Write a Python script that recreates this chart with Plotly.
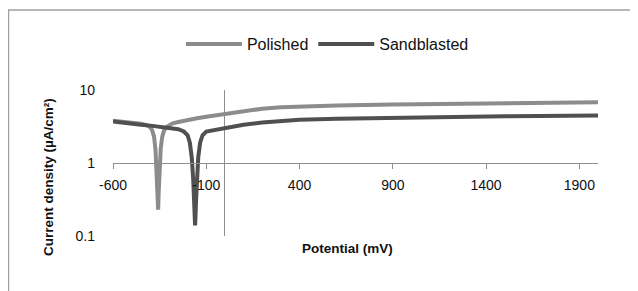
import plotly.graph_objects as go

# Potential (mV) and current density (uA/cm2)
pol_x = [-600, -550, -500, -450, -420, -400, -390, -380, -372, -366, -361, -358,
         -355, -350, -344, -336, -326, -315, -300, -280, -250, -200, -150, -100,
         -50, 0, 50, 100, 150, 200, 300, 400, 600, 900, 1200, 1500, 2000]
pol_y = [3.8, 3.7, 3.6, 3.45, 3.3, 3.1, 2.8, 2.3, 1.5, 0.8, 0.4, 0.23,
         0.4, 0.9, 1.6, 2.3, 2.8, 3.1, 3.3, 3.5, 3.65, 3.9, 4.1, 4.3,
         4.5, 4.7, 4.95, 5.2, 5.4, 5.55, 5.8, 5.95, 6.15, 6.35, 6.5, 6.62, 6.8]

sand_x = [-600, -550, -500, -450, -400, -350, -300, -250, -220, -200, -188, -178,
          -170, -165, -162, -160, -158, -155, -150, -143, -133, -120, -100, -50,
          0, 50, 100, 200, 300, 400, 600, 900, 1200, 1500, 2000]
sand_y = [3.7, 3.55, 3.45, 3.35, 3.25, 3.15, 3.05, 2.9, 2.7, 2.4, 1.9, 1.2,
          0.6, 0.3, 0.18, 0.14, 0.18, 0.3, 0.6, 1.2, 1.9, 2.4, 2.7, 2.85,
          3.0, 3.2, 3.35, 3.6, 3.75, 3.9, 4.05, 4.2, 4.3, 4.38, 4.48]

x_ticks = [-600, -100, 400, 900, 1400, 1900]
x_labels = ["-600", "-100", "400", "900", "1400", "1900"]
y_ticks = [0.1, 1, 10]
y_labels = ["0.1", "1", "10"]

FONT = "Liberation Sans, Arial, sans-serif"
GRID = "#8f8f8f"

fig = go.Figure()
fig.add_trace(go.Scatter(x=pol_x, y=pol_y, mode="lines", name="Polished",
                         line=dict(color="#8c8c8c", width=4)))
fig.add_trace(go.Scatter(x=sand_x, y=sand_y, mode="lines", name="Sandblasted",
                         line=dict(color="#505050", width=4)))

fig.update_layout(
    width=630, height=283,
    margin=dict(l=105, r=40, t=82, b=55),
    paper_bgcolor="white", plot_bgcolor="white",
    font=dict(family=FONT, size=14, color="#111111"),
    showlegend=True,
    legend=dict(orientation="h", x=0.14, y=1.315, xanchor="left", yanchor="middle",
                font=dict(size=16), itemwidth=56, bgcolor="rgba(0,0,0,0)",
                tracegroupgap=0),
    xaxis=dict(range=[-600, 2000], tickvals=x_ticks, ticktext=x_labels,
               showgrid=False, anchor="free", position=0.5, showline=True,
               linecolor=GRID, linewidth=1, ticks="outside", ticklen=5,
               tickcolor=GRID, zeroline=True, zerolinecolor=GRID,
               zerolinewidth=1, ticklabelstandoff=4),
    yaxis=dict(type="log", range=[-1, 1], tickvals=y_ticks, ticktext=y_labels,
               showgrid=True, gridcolor=GRID, gridwidth=1, showline=False,
               zeroline=False, ticks="", ticklabelstandoff=17),
    annotations=[
        dict(text="<b>Current density (µA/cm²)</b>", xref="paper", yref="paper",
             x=-0.134, y=0.404, textangle=-90, showarrow=False,
             xanchor="center", yanchor="middle", font=dict(size=13.5)),
        dict(text="<b>Potential (mV)</b>", xref="paper", yref="paper",
             x=0.4845, y=-0.089, showarrow=False,
             xanchor="center", yanchor="middle", font=dict(size=13.5)),
    ],
    shapes=[
        dict(type="rect", xref="paper", yref="paper", x0=-0.2155, y0=-0.6,
             x1=1.3, y1=1.548, line=dict(color="#a0a0a0", width=1.5),
             layer="below"),
    ],
)

fig.write_html("out.html")
